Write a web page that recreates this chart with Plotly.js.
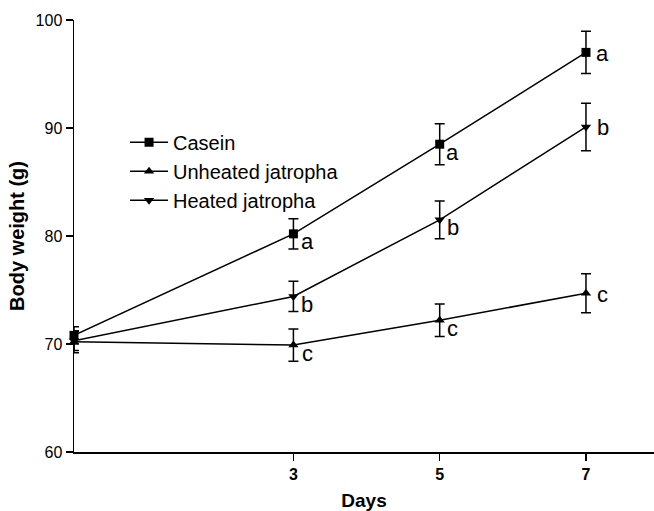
<!DOCTYPE html>
<html>
<head>
<meta charset="utf-8">
<script src="https://cdn.plot.ly/plotly-3.0.1.min.js"></script>
<style>html,body{margin:0;padding:0;background:#fff}#chart{width:654px;height:511px}</style>
</head>
<body>
<div id="chart"></div>
<script>
// Data
const days = [0, 3, 5, 7];
const seriesNames = ['Casein', 'Unheated jatropha', 'Heated jatropha'];
const casein = [70.8, 80.2, 88.5, 97.0];
const caseinErr = [0.8, 1.4, 1.9, 1.95];
const unheated = [70.2, 69.9, 72.2, 74.7];
const unheatedErr = [1.0, 1.5, 1.5, 1.8];
const heated = [70.3, 74.4, 81.5, 90.1];
const heatedErr = [0.9, 1.4, 1.75, 2.2];
const caseinLetters = ['', 'a', 'a', 'a'];
const unheatedLetters = ['', 'c', 'c', 'c'];
const heatedLetters = ['', 'b', 'b', 'b'];
const xTicks = [3, 5, 7];
const yTicks = [60, 70, 80, 90, 100];

const symbols = ['square', 'triangle-up', 'triangle-down'];
const values = [casein, unheated, heated];
const errs = [caseinErr, unheatedErr, heatedErr];
const letters = [caseinLetters, unheatedLetters, heatedLetters];

const traces = values.map((v, i) => ({
  x: days, y: v, name: seriesNames[i], type: 'scatter', mode: 'lines+markers',
  line: {color: '#000', width: 1.5},
  marker: {symbol: symbols[i], size: 9, color: '#000'},
  error_y: {type: 'data', array: errs[i], visible: true, color: '#000', thickness: 1.5, width: 5},
  cliponaxis: false
}));

const offX = [0, 14, 13, 17];
const offY = [0, -8, -8, -1];
const annotations = [];
letters.forEach((arr, i) => {
  arr.forEach((t, j) => {
    if (!t) return;
    annotations.push({
      x: days[j], y: values[i][j], text: t, showarrow: false,
      xanchor: 'center', yanchor: 'middle', xshift: offX[j], yshift: offY[j],
      font: {family: 'Arial, Liberation Sans, sans-serif', size: 22, color: '#000'}
    });
  });
});

const layout = {
  width: 654, height: 511,
  margin: {l: 74, r: 0, t: 20, b: 59},
  paper_bgcolor: '#fff', plot_bgcolor: '#fff',
  showlegend: true,
  legend: {x: 0.088, y: 0.762, xanchor: 'left', yanchor: 'top', bgcolor: 'rgba(0,0,0,0)',
    itemwidth: 38, tracegroupgap: 0,
    font: {family: 'Arial, Liberation Sans, sans-serif', size: 20, color: '#000'}},
  xaxis: {range: [0, 7.93], tickvals: xTicks, ticktext: xTicks.map(v => '<b>' + v + '</b>'), ticks: 'outside', ticklen: 7,
    tickwidth: 1.5, tickcolor: '#000', showline: true, linecolor: '#000', linewidth: 1.5,
    showgrid: false, zeroline: false,
    tickfont: {family: 'Arial, Liberation Sans, sans-serif', size: 16, color: '#000'},
    title: {text: '<b>Days</b>', standoff: 14, font: {family: 'Arial, Liberation Sans, sans-serif', size: 19, color: '#000'}}},
  yaxis: {range: [60, 100], tickvals: yTicks, ticks: 'outside', ticklen: 7,
    tickwidth: 1.5, tickcolor: '#000', showline: true, linecolor: '#000', linewidth: 1.5,
    showgrid: false, zeroline: false,
    tickfont: {family: 'Arial, Liberation Sans, sans-serif', size: 16, color: '#000'},
    title: {text: '<b>Body weight (g)</b>', standoff: 5, font: {family: 'Arial, Liberation Sans, sans-serif', size: 20, color: '#000'}}},
  annotations: annotations
};

Plotly.newPlot('chart', traces, layout, {displayModeBar: false, staticPlot: true});
</script>
</body>
</html>
